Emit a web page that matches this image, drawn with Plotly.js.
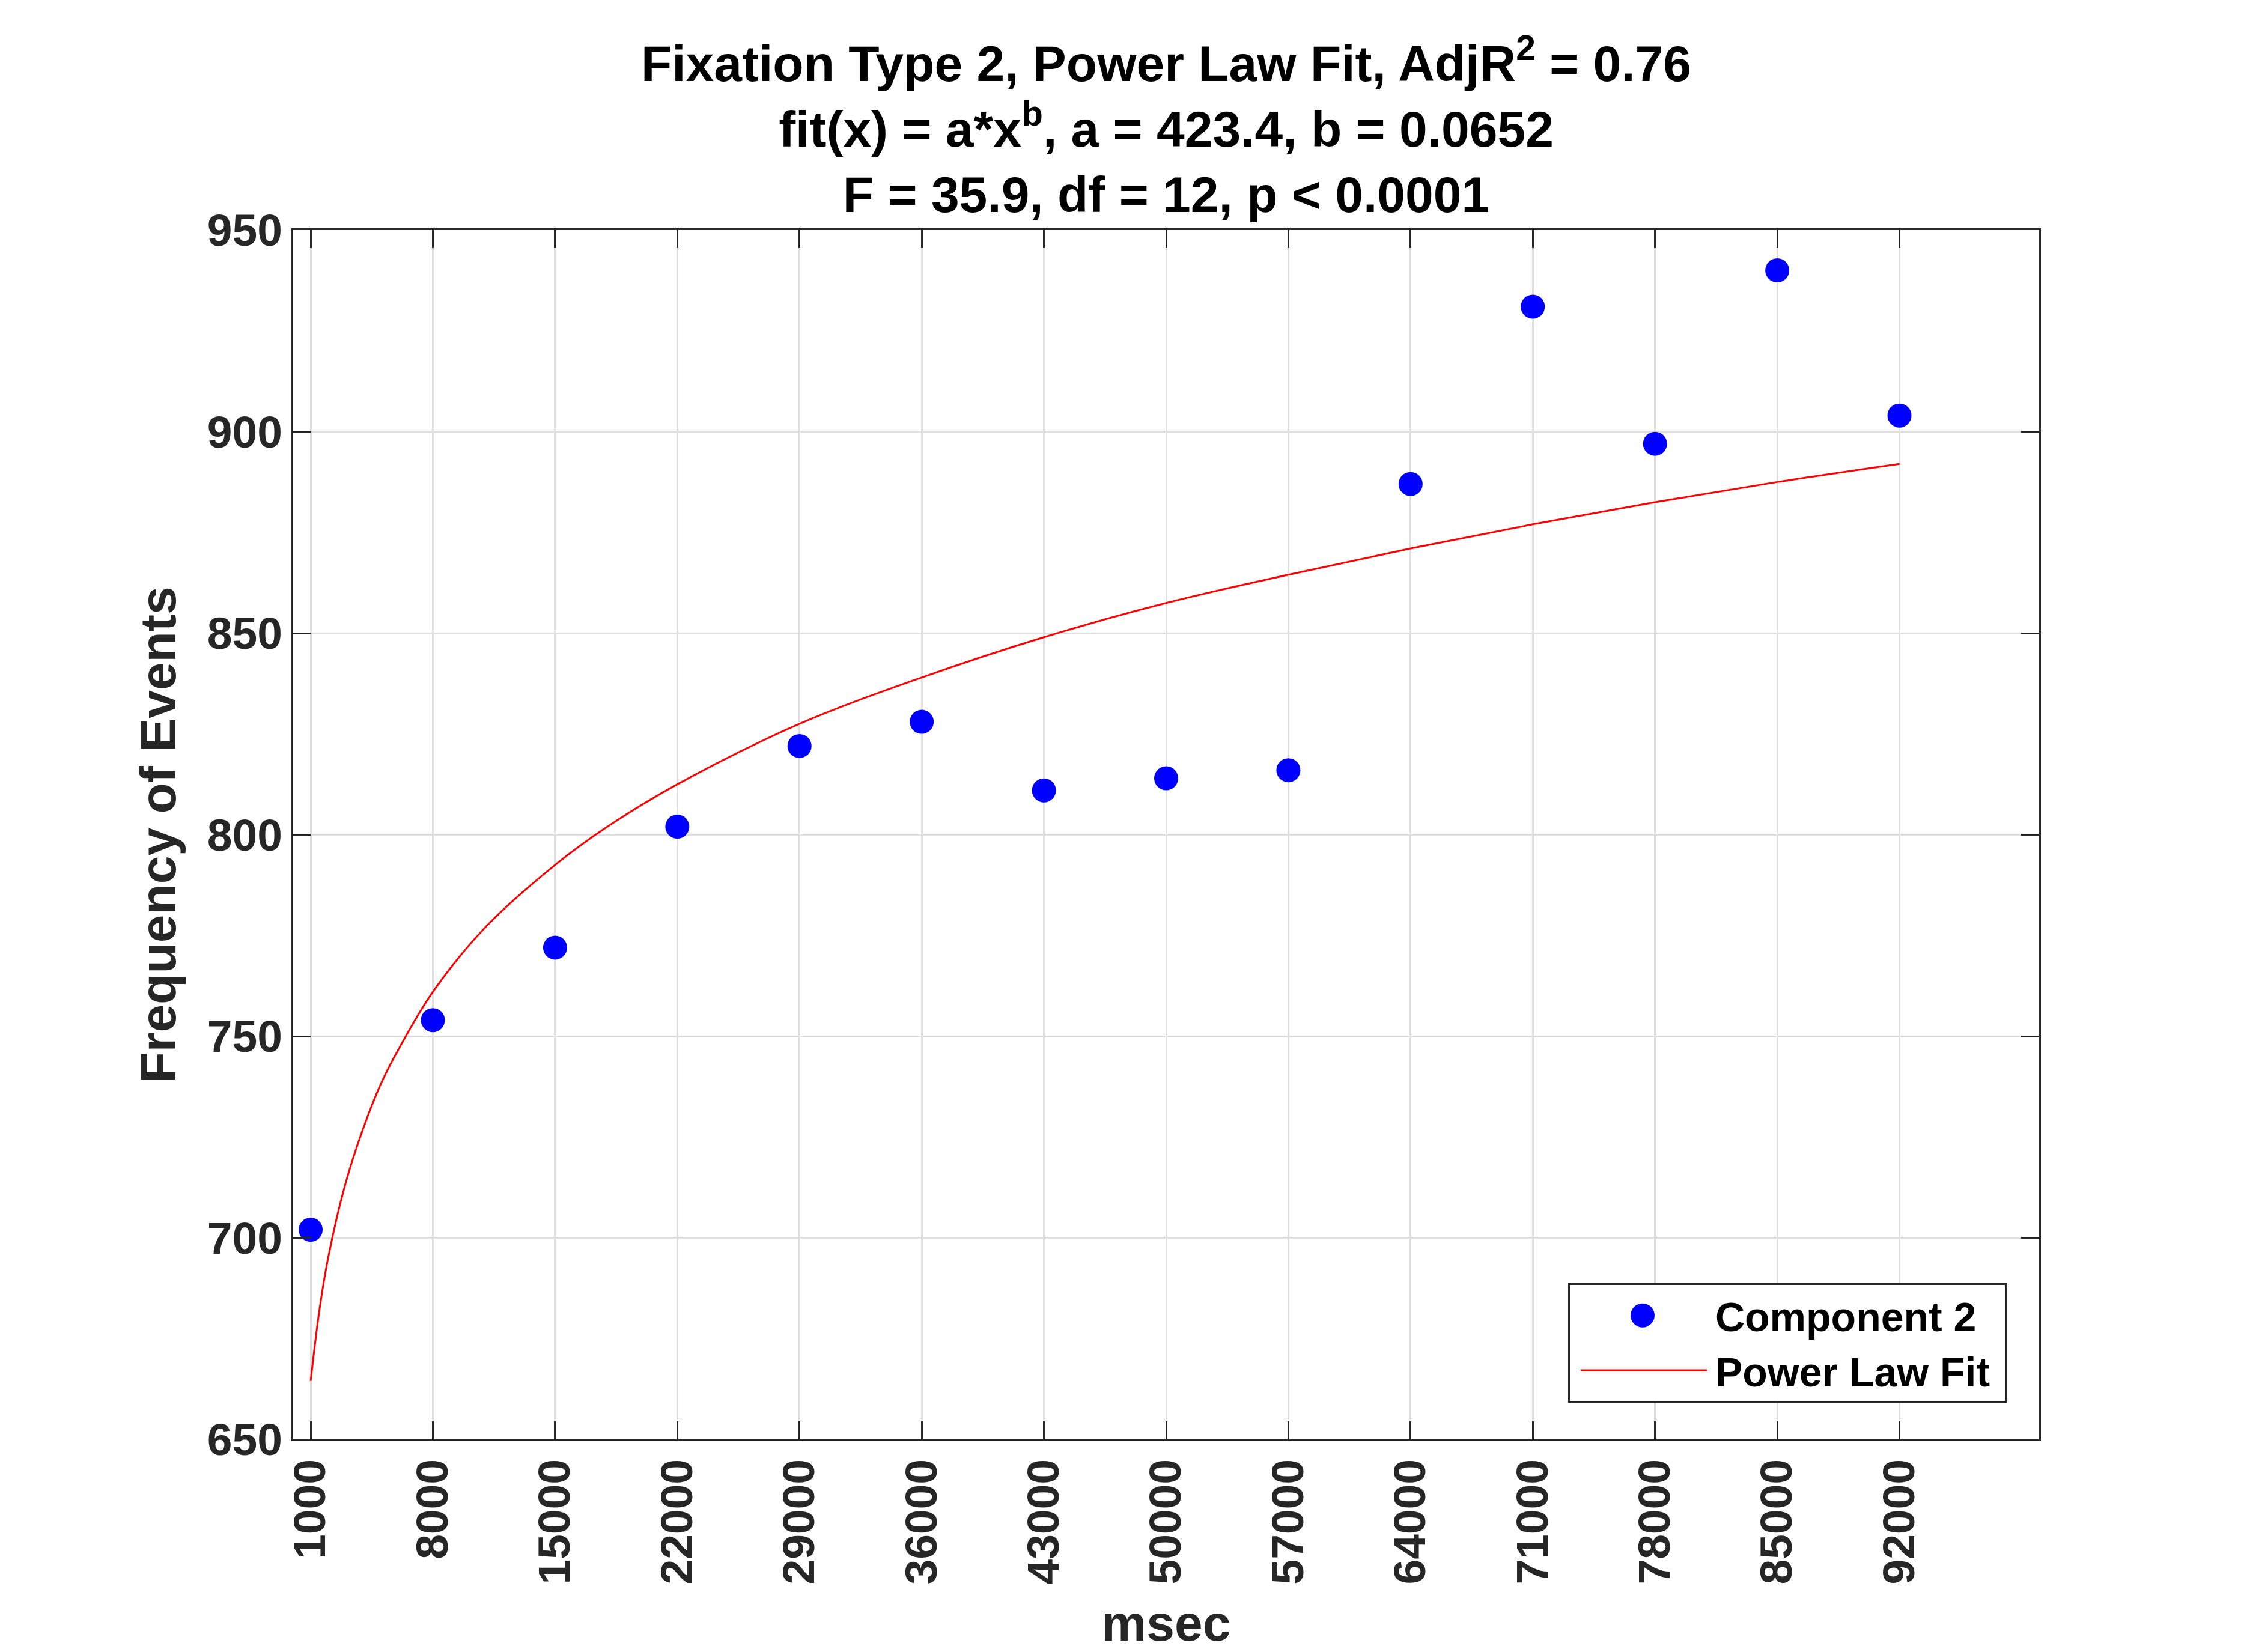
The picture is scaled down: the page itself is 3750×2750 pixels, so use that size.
<!DOCTYPE html>
<html>
<head>
<meta charset="utf-8">
<script src="https://cdn.plot.ly/plotly-3.0.1.min.js"></script>
<style>
  body { margin: 0; background: #ffffff; }
  #plot { width: 3750px; height: 2750px; }
</style>
</head>
<body>
<div id="plot"></div>
<script>
// measured points (Component 2)
var msec = [1000, 8000, 15000, 22000, 29000, 36000, 43000, 50000, 57000, 64000, 71000, 78000, 85000, 92000];
var events = [702, 754, 772, 802, 822, 828, 811, 814, 816, 887, 931, 897, 940, 904];

// power law fit curve
var fit_x = [1000, 1500, 2000, 3000, 4000, 5000, 6000, 8000, 11000, 15000, 18000, 22000,
             29000, 36000, 43000, 50000, 57000, 64000, 71000, 78000, 85000, 92000];
var fit_y = [664.5, 682, 695, 713.5, 727, 738, 746.5, 761, 777, 792.5, 802, 812.5,
             827.5, 839, 849, 857.5, 864.5, 871, 877, 882.5, 887.5, 892];

var x_ticks = [1000, 8000, 15000, 22000, 29000, 36000, 43000, 50000, 57000, 64000, 71000, 78000, 85000, 92000];
var y_ticks = [650, 700, 750, 800, 850, 900, 950];

var font_family = 'Liberation Sans, Arial, Helvetica, sans-serif';
var axis_color = '#262626';

function plot_fit(){
   var plotDiv = document.getElementById('plot');

   points_trace = {
      name: 'Component 2\u00a0',
      x: msec,
      y: events,
      mode: 'markers',
      type: 'scatter',
      marker: {size: 40, color: '#0000ff'},
      hoverinfo: 'x+y'
   };
   fit_trace = {
      name: 'Power Law Fit\u00a0',
      x: fit_x,
      y: fit_y,
      mode: 'lines',
      type: 'scatter',
      line: {width: 3, color: '#ff0000', shape: 'spline'},
      hoverinfo: 'x+y'
   };

   var traces = [points_trace, fit_trace];

   xaxis_layout = {
      range: [0, 100000],
      tickmode: 'array',
      tickvals: x_ticks,
      ticktext: x_ticks.map(String),
      tickangle: -90,
      ticks: 'inside',
      ticklen: 30,
      tickwidth: 3,
      tickcolor: axis_color,
      showline: true,
      linewidth: 3,
      linecolor: axis_color,
      mirror: 'ticks',
      showgrid: true,
      gridcolor: '#dfdfdf',
      gridwidth: 3,
      zeroline: false,
      tickfont: {family: font_family, size: 75, color: axis_color, weight: 'bold'},
      title: {
         text: 'msec',
         font: {family: font_family, size: 84, color: axis_color, weight: 'bold'},
         standoff: 36
      }
   };
   yaxis_layout = {
      range: [650, 950],
      tickmode: 'array',
      tickvals: y_ticks,
      ticktext: y_ticks.map(String),
      ticks: 'inside',
      ticklen: 30,
      tickwidth: 3,
      tickcolor: axis_color,
      showline: true,
      linewidth: 3,
      linecolor: axis_color,
      mirror: 'ticks',
      showgrid: true,
      gridcolor: '#dfdfdf',
      gridwidth: 3,
      zeroline: false,
      tickfont: {family: font_family, size: 75, color: axis_color, weight: 'bold'},
      title: {
         text: 'Frequency of Events',
         font: {family: font_family, size: 84, color: axis_color, weight: 'bold'},
         standoff: 25
      }
   };

   Plotly.newPlot(plotDiv,
      traces,
      {
         width: 3750,
         height: 2750,
         margin: {l: 488, r: 356, t: 383, b: 354},
         paper_bgcolor: '#ffffff',
         plot_bgcolor: '#ffffff',
         title: {
            text: 'Fixation Type 2, Power Law Fit, AdjR<sup>2</sup> = 0.76<br>' +
                  'fit(x) = a*x<sup>b</sup>, a = 423.4, b = 0.0652<br>' +
                  'F = 35.9, df = 12, p &lt; 0.0001',
            font: {family: font_family, size: 84, color: '#000000', weight: 'bold'},
            xref: 'paper',
            x: 0.5,
            xanchor: 'center',
            yref: 'container',
            y: 1 - 135 / 2750,
            yanchor: 'top'
         },
         xaxis: xaxis_layout,
         yaxis: yaxis_layout,
         showlegend: true,
         legend: {
            x: 0.9814,
            y: 0.0303,
            xanchor: 'right',
            yanchor: 'bottom',
            bgcolor: '#ffffff',
            bordercolor: axis_color,
            borderwidth: 3,
            itemwidth: 232,
            font: {family: font_family, size: 68, color: '#000000', weight: 'bold'}
         }
      },
      {staticPlot: true}
   ).then(function(){
      // legend markers are capped at 16px by plotly, scale them up to match the plot
      plotDiv.querySelectorAll('.legend .legendpoints path.scatterpts').forEach(function(p){
         var t = p.getAttribute('transform') || '';
         p.setAttribute('transform', t + ' scale(2.5)');
      });
      // inset the legend line a little from the box edge, as in the original
      plotDiv.querySelectorAll('.legend .legendlines path.js-line').forEach(function(p){
         p.setAttribute('d', 'M18,0h210');
      });
   });
}

plot_fit();
</script>
</body>
</html>
